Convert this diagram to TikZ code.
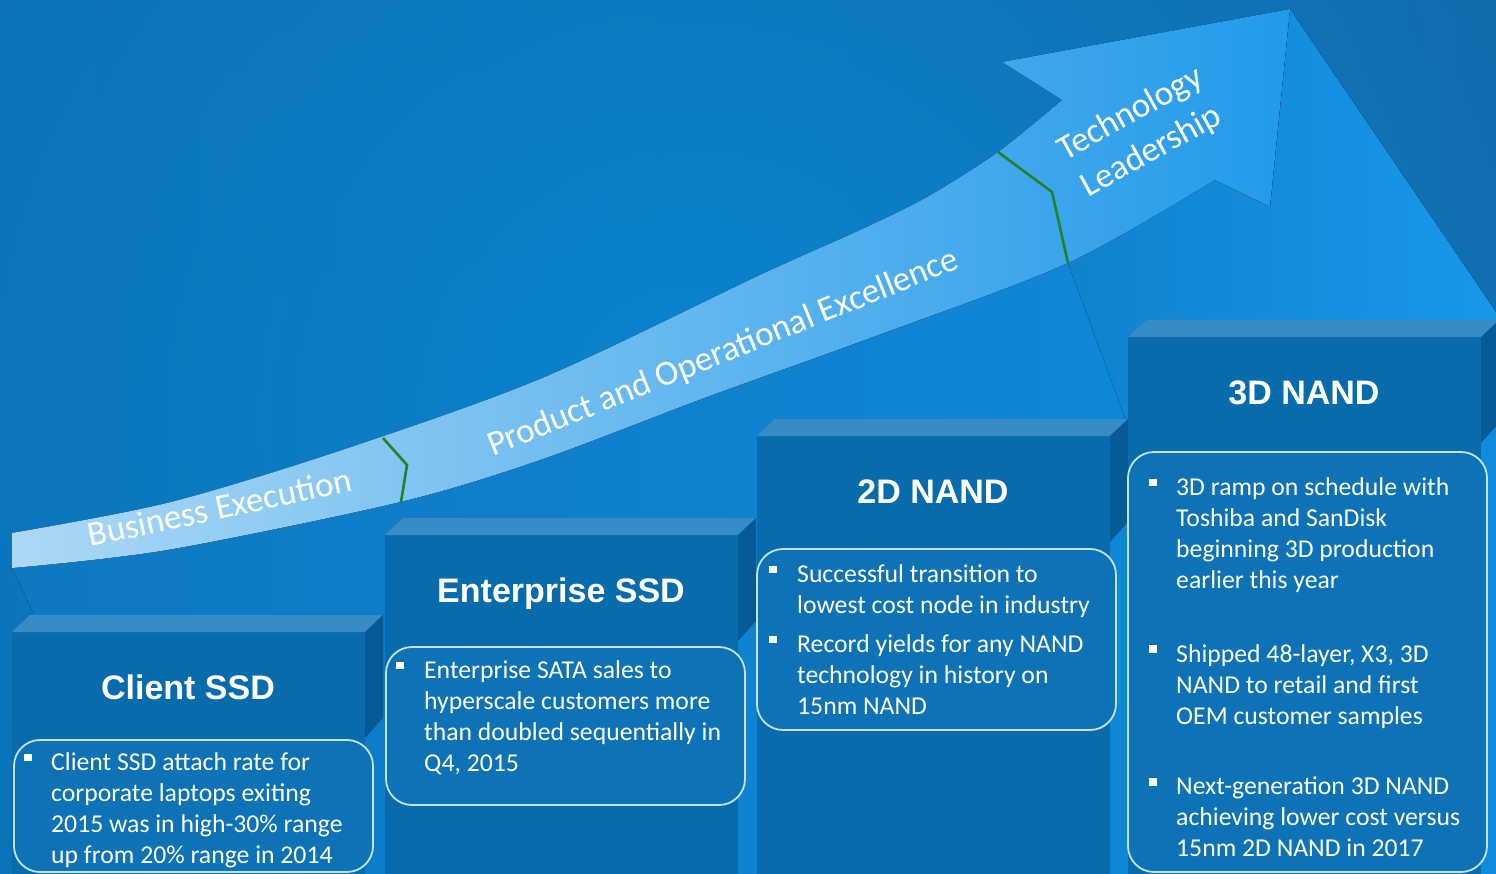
\documentclass[tikz,border=0pt]{standalone}
\usepackage{fontspec}
\setmainfont{Carlito}
\newfontfamily\titlefont{Liberation Sans}
\usetikzlibrary{positioning,calc,fadings}

\definecolor{bgbase}{RGB}{11,106,172}
\definecolor{bgdark}{RGB}{22,98,156}
\definecolor{bglight}{RGB}{10,132,208}
\definecolor{wallL}{RGB}{14,120,194}
\definecolor{wallR}{RGB}{16,140,222}
\definecolor{extL}{RGB}{16,130,206}
\definecolor{extR}{RGB}{24,152,234}
\definecolor{bandL}{RGB}{172,216,245}
\definecolor{bandR}{RGB}{34,154,234}
\definecolor{divgreen}{RGB}{34,130,40}
\definecolor{stepfront}{RGB}{8,108,172}
\definecolor{steptop}{RGB}{56,140,196}
\definecolor{stepside}{RGB}{6,90,150}
\definecolor{boxfill}{RGB}{14,114,182}
\definecolor{boxline}{RGB}{196,226,244}

\tikzfading[name=spotfade,inner color=transparent!0,outer color=transparent!100]

\tikzset{
  frontface/.style={fill=stepfront},
  topface/.style={fill=steptop},
  sideface/.style={fill=stepside},
  infobox/.style={draw=boxline,line width=1.8pt,fill=boxfill,rounded corners=26pt},
  bul/.style={fill=white,minimum size=7.5pt,inner sep=0pt},
  bulletitem/.style={anchor=north west,align=left,inner sep=0pt,text=white,
    font=\fontsize{25.7}{31}\selectfont},
  steptitle/.style={anchor=base,inner sep=0pt,text=white,
    font=\titlefont\bfseries\fontsize{34}{40}\selectfont},
  bandtext/.style={inner sep=0pt,text=white,font=\fontsize{35}{43}\selectfont},
  divider/.style={draw=divgreen,line width=2.6pt},
}

\begin{document}
\begin{tikzpicture}[x=1pt,y=-1pt]
\useasboundingbox (0,0) rectangle (1496,874);
\begin{scope}
\clip (0,0) rectangle (1496,874);

% background
\shade[left color=bgbase,right color=bgdark] (0,0) rectangle (1496,874);
\fill[bglight,path fading=spotfade] (700,420) circle[radius=1300pt];

% wall under the arrow
\fill[left color=wallL,right color=wallR]
  plot[smooth] coordinates {(12,568) (167,550) (400,502) (540,460) (707,397) (873,337) (1068,263) (1215,180)}
  -- (1270,207) -- (1290,9) -- (1496,312) -- (1496,874) -- (33,874) -- (33,612) -- cycle;
\fill[left color=extL,right color=extR] (1068,263) -- (1215,180) -- (1270,207) -- (1290,9)
  -- (1496,312) -- (1496,320) -- (1146,320) -- (1128,337) -- (1128,418) -- (1125,418) -- cycle;

% the arrow
\fill[left color=bandL,right color=bandR]
  plot[smooth] coordinates {(12,533) (167,503) (333,453) (540,379) (760,275) (860,230) (927,197) (998,152) (1062,100)}
  -- (1002,62) -- (1290,9) -- (1270,207) -- (1215,180)
  -- plot[smooth] coordinates {(1215,180) (1068,263) (873,337) (707,397) (540,460) (400,502) (167,550) (12,568)}
  -- cycle;
\draw[divider] (383,438) -- (407,465) -- (401,502);
\draw[divider] (998,152) -- (1052,192) -- (1068,263);

\node[bandtext,rotate=12,anchor=base] (exec) at (222,519) {Business Execution};
\node[bandtext,rotate=22,anchor=base] (excel) at (727,362) {Product and Operational Excellence};
\node[bandtext,rotate=29,align=center] (lead) at (1141,133) {Technology\\Leadership};

% steps
\foreach \x/\y/\lbl [count=\i] in {12/632/Client SSD,385/535/Enterprise SSD,757/436/2D NAND,1128/337/3D NAND}{
  \fill[frontface] (\x,\y) rectangle (\x+353,874);
  \fill[topface] (\x,\y) -- ++(18,-17) -- ++(353,0) -- ++(-18,17) -- cycle;
  \fill[sideface] (\x+353,\y) -- ++(18,-17) -- ++(0,103) -- ++(-18,20) -- cycle;
  \node[steptitle] (title\i) at (\x+176,\y+67.5) {\lbl};
}

% boxes
\draw[infobox] (14,740) rectangle (373,872);
\draw[infobox] (386,647) rectangle (745,805);
\draw[infobox] (757,549) rectangle (1116,730);
\draw[infobox] (1128,452) rectangle (1487,872);

\node[bul] (b1) at (28,757.5) {};
\node[bulletitem] (t1) at (51,752.5) {Client SSD attach rate for\\corporate laptops exiting\\2015 was in high-30\% range\\up from 20\% range in 2014};

\node[bul] (b2) at (400,665.5) {};
\node[bulletitem] (t2) at (424,660.5) {Enterprise SATA sales to\\hyperscale customers more\\than doubled sequentially in\\Q4, 2015};

\node[bul] (b3a) at (773,569.5) {};
\node[bulletitem] (t3a) at (797,564.5) {Successful transition to\\lowest cost node in industry};
\node[bul] (b3b) at (773,639.5) {};
\node[bulletitem] (t3b) at (797,634.5) {Record yields for any NAND\\technology in history on\\15nm NAND};

\node[bul] (b4a) at (1153,482.5) {};
\node[bulletitem] (t4a) at (1176,477.5) {3D ramp on schedule with\\Toshiba and SanDisk\\beginning 3D production\\earlier this year};
\node[bul] (b4b) at (1153,649) {};
\node[bulletitem] (t4b) at (1176,644) {Shipped 48-layer, X3, 3D\\NAND to retail and first\\OEM customer samples};
\node[bul] (b4c) at (1153,782) {};
\node[bulletitem] (t4c) at (1176,777) {Next-generation 3D NAND\\achieving lower cost versus\\15nm 2D NAND in 2017};
\end{scope}
\end{tikzpicture}
\end{document}
